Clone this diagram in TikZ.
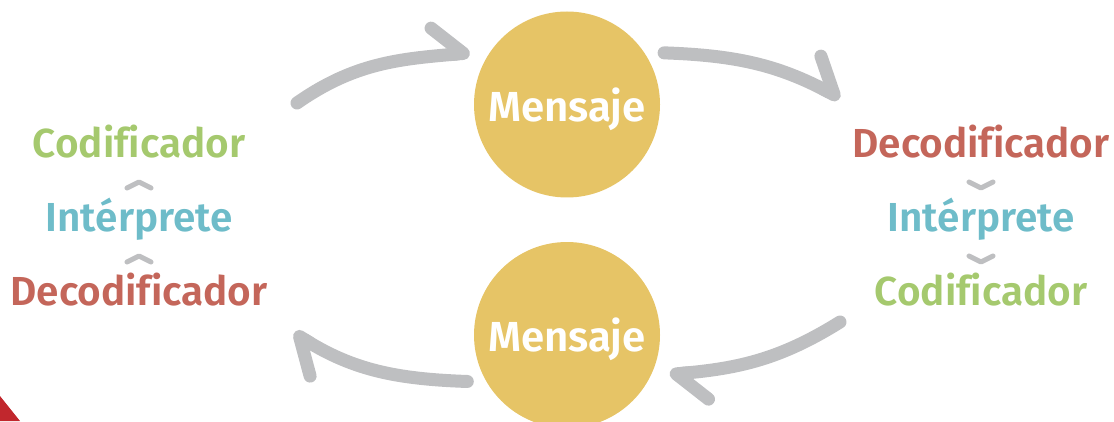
\documentclass[tikz,border=0pt]{standalone}
\usepackage{fontspec}
\setmainfont{Fira Sans}[BoldFont={* SemiBold}, Ligatures=CommonOff]
\usetikzlibrary{matrix,positioning,arrows.meta,calc}
\definecolor{gold}{HTML}{E6C466}
\definecolor{flowgray}{HTML}{BEBFC1}
\definecolor{txtgreen}{HTML}{A5C96E}
\definecolor{txtblue}{HTML}{6EBCC9}
\definecolor{txtred}{HTML}{C4665A}
\definecolor{cornerred}{HTML}{C1272D}
\tikzset{
  msg/.style={circle, fill=gold, minimum size=186pt, inner sep=0pt, outer sep=17pt,
    text=white, text depth=0pt, font=\fontsize{42}{42}\selectfont\bfseries},
  flow/.style={draw=flowgray, line width=13pt, line cap=round,
    -{Straight Barb[harpoon, round, length=30pt, width=56pt]}},
  chev/.style={draw=flowgray, line width=5pt, line cap=round, line join=round},
  col/.style={matrix of nodes, row sep=36pt,
    nodes={inner sep=0pt, text height=28pt, text depth=10pt,
      font=\fontsize{40.5}{40.5}\selectfont\bfseries}}
}

\begin{document}
\begin{tikzpicture}[x=1pt, y=1pt]
\useasboundingbox (0,0) rectangle (1114,421);
\fill[cornerred] (0,25) -- (20,0) -- (0,0) -- cycle;

\node[msg] (msg1) at (567,316.5) {Mensaje};
\node[msg] (msg2) at (567,86) {Mensaje};

\matrix (lft) [col] at (139,199)
{ |[text=txtgreen]| Codificador \\
  |[text=txtblue]| Intérprete \\
  |[text=txtred]| Decodificador \\
};
\matrix (rgt) [col] at (981,199)
{ |[text=txtred]| Decodificador \\
  |[text=txtblue]| Intérprete \\
  |[text=txtgreen]| Codificador \\
};

% loose ends of the loop
\coordinate (tl) at (297,318);
\coordinate (tr) at (840,323);
\coordinate (br) at (840,99);
\coordinate (bl) at (294,88);

\path[flow] (tl) to[out=35, in=185] (msg1.152);
\path[flow] (msg1.28) to[out=-2, in=152] (tr);
\path[flow] (br) to[out=212, in=5] (msg2.-21);
\path[flow] (msg2.205) to[out=178, in=-32] (bl);

\foreach \a/\b in {lft-3-1/lft-2-1, lft-2-1/lft-1-1}
  \draw[chev] ($(\a.north)!.5!(\b.south)$) ++(-12,-3) -- ++(12,6) -- ++(12,-6);
\foreach \a/\b in {rgt-1-1/rgt-2-1, rgt-2-1/rgt-3-1}
  \draw[chev] ($(\a.south)!.5!(\b.north)$) ++(-12,3) -- ++(12,-6) -- ++(12,6);
\end{tikzpicture}
\end{document}
